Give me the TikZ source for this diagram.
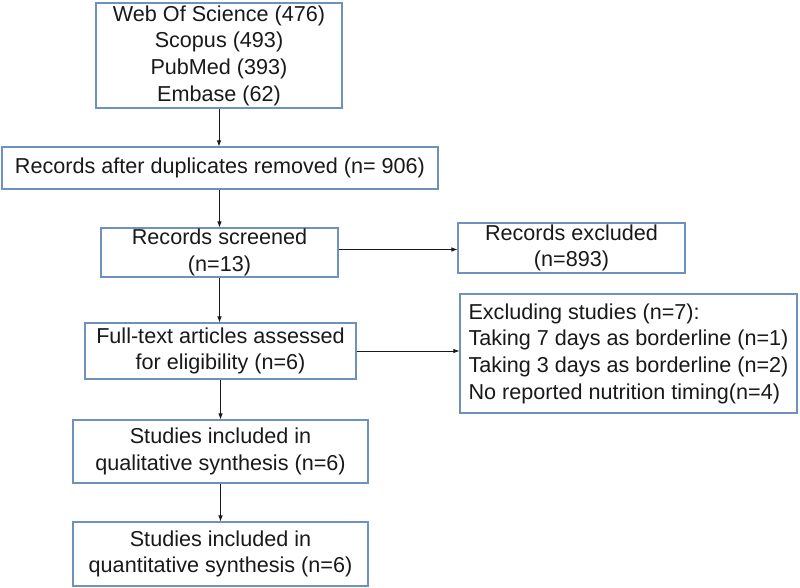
\documentclass[tikz,border=0pt]{standalone}
\usepackage{fontspec}
\setmainfont{Liberation Sans}
\usetikzlibrary{arrows.meta}
\definecolor{boxline}{RGB}{110,145,190}
\definecolor{txt}{RGB}{25,25,25}
\begin{document}
\begin{tikzpicture}[x=1pt,y=1pt,
  box/.style={draw=boxline, line width=1.1pt, fill=white, inner sep=0pt, align=center,
    text=txt, font=\fontsize{21.6}{26.7}\selectfont},
  arr/.style={draw=black!90, line width=0.8pt, -{Latex[length=6pt,width=4.5pt]}}]
\useasboundingbox (0,0) rectangle (800,-587);
\node[box, minimum width=246, minimum height=105] (src) at (219,-55.5)
  {Web Of Science (476)\\Scopus (493)\\PubMed (393)\\Embase (62)};
\node[box, minimum width=436, minimum height=42] (dup) at (220,-168)
  {Records after duplicates removed (n= 906)};
\node[box, minimum width=237, minimum height=49] (scr) at (219.5,-252.5)
  {Records screened\\(n=13)};
\node[box, minimum width=227, minimum height=50] (exc) at (571.5,-248)
  {Records excluded\\(n=893)};
\node[box, minimum width=337, minimum height=119, align=left] (exs) at (628.5,-353.5)
  {Excluding studies (n=7):\\Taking 7 days as borderline (n=1)\\Taking 3 days as borderline (n=2)\\No reported nutrition timing(n=4)};
\node[box, minimum width=271, minimum height=56] (full) at (220.5,-351)
  {Full-text articles assessed\\for eligibility (n=6)};
\node[box, minimum width=295, minimum height=63] (qual) at (220.5,-451.5)
  {Studies included in\\qualitative synthesis (n=6)};
\node[box, minimum width=295, minimum height=64] (quan) at (220.5,-554)
  {Studies included in\\quantitative synthesis (n=6)};
\draw[arr] (src) -- (src |- dup.north);
\draw[arr] (dup.south -| scr) -- (scr.north);
\draw[arr] (scr) -- (scr |- full.north);
\draw[arr] (full) -- (full |- qual.north);
\draw[arr] (qual) -- (qual |- quan.north);
\draw[arr] ([yshift=3pt]scr.east) -- ([yshift=3pt]scr.east -| exc.west);
\draw[arr] (full) -- (full -| exs.west);
\end{tikzpicture}
\end{document}
